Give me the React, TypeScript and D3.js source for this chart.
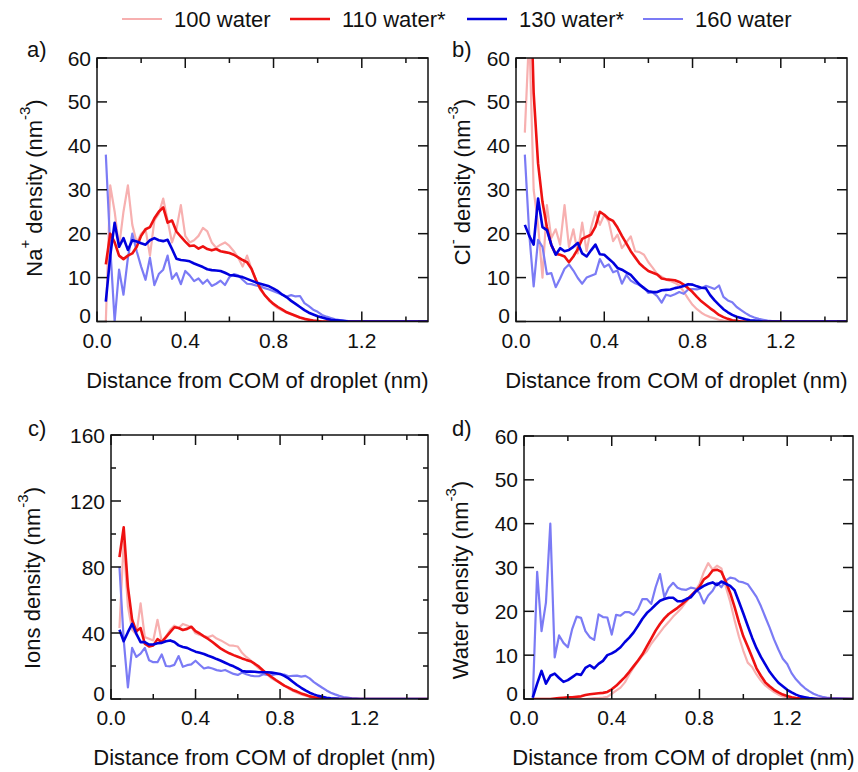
import { useEffect, useRef } from 'react';
import * as d3 from 'd3';

const WIDTH = 858;
const HEIGHT = 772;

const SERIES_NAMES = ['100 water', '110 water*', '130 water*', '160 water'];
const SERIES_COLORS = ['#f7b0b0', '#ee1111', '#0000dd', '#7b7bf5'];
const SERIES_WIDTHS = [2.2, 2.6, 2.6, 2.2];
const DRAW_ORDER = [0, 3, 1, 2];

// distance grid (nm) for the ion panels a-c
const DIST_ION = [
  0.04, 0.06, 0.08, 0.10, 0.12, 0.14, 0.16, 0.18, 0.20, 0.22,
  0.24, 0.26, 0.28, 0.30, 0.32, 0.34, 0.36, 0.38, 0.40, 0.42,
  0.44, 0.46, 0.48, 0.50, 0.52, 0.54, 0.56, 0.58, 0.60, 0.62,
  0.64, 0.66, 0.68, 0.70, 0.72, 0.74, 0.76, 0.78, 0.80, 0.82,
  0.84, 0.86, 0.88, 0.90, 0.92, 0.94, 0.96, 0.98, 1.00, 1.02,
  1.04, 1.06, 1.08, 1.10, 1.12, 1.14, 1.16, 1.18, 1.20,
  1.50,
];

// distance grid (nm) for the water panel d
const DIST_WATER = [
  0.04, 0.06, 0.08, 0.10, 0.12, 0.14, 0.16, 0.18, 0.20, 0.22,
  0.24, 0.26, 0.28, 0.30, 0.32, 0.34, 0.36, 0.38, 0.40, 0.42,
  0.44, 0.46, 0.48, 0.50, 0.52, 0.54, 0.56, 0.58, 0.60, 0.62,
  0.64, 0.66, 0.68, 0.70, 0.72, 0.74, 0.76, 0.78, 0.80, 0.82,
  0.84, 0.86, 0.88, 0.90, 0.92, 0.94, 0.96, 0.98, 1.00, 1.02,
  1.04, 1.06, 1.08, 1.10, 1.12, 1.14, 1.16, 1.18, 1.20, 1.22,
  1.24, 1.26, 1.28, 1.30, 1.32, 1.34, 1.36, 1.38, 1.40,
  1.50,
];

// a) Na+ density
const NA_100 = [
  0, 31, 25, 17, 25, 31, 22, 18, 20, 21,
  15, 23, 24.5, 28, 23, 18, 21, 26.5, 19.5, 18,
  18.5, 19.5, 21.3, 20.5, 18, 16.8, 17.5, 18, 17.2, 16,
  14.5, 12.5, 15, 12, 9.5, 7.2, 6, 4.8, 3.8, 3,
  2.5, 2, 1.6, 1.2, 0.8, 0.6, 0.4, 0.2, 0.1, 0,
  0, 0, 0, 0, 0, 0, 0, 0, 0,
  0,
];
const NA_110 = [
  13, 20, 18, 15, 14.2, 15, 15.5, 17, 19.5, 21,
  21.5, 23.5, 25, 26, 22.5, 23, 20.5, 19.3, 18.2, 17.2,
  17.3, 16.6, 17.1, 16.5, 16.2, 16.5, 16, 15.8, 15.6, 15.2,
  14.6, 14, 13.5, 12, 9.5, 7.5, 6, 4.9, 4, 3.3,
  2.7, 2.1, 1.7, 1.3, 0.9, 0.6, 0.4, 0.2, 0.1, 0,
  0, 0, 0, 0, 0, 0, 0, 0, 0,
  0,
];
const NA_130 = [
  4.5, 15, 22.5, 17, 19, 16.3, 18.5, 18.2, 17.8, 17.5,
  18.5, 19, 18.5, 18.3, 18.6, 16.5, 14.3, 14, 13.9, 13.7,
  13.2, 12.8, 12.4, 11.9, 11.7, 11.6, 11.5, 11.1, 10.6, 10.5,
  10.3, 10.1, 9.7, 9.3, 8.9, 8.6, 8.3, 8, 7.5, 6.9,
  6.1, 5.5, 4.7, 4, 3.3, 2.6, 2, 1.6, 1.2, 0.9,
  0.6, 0.4, 0.3, 0.2, 0.1, 0, 0, 0, 0,
  0,
];
const NA_160 = [
  38, 17, 0, 11.8, 6.1, 14.5, 20, 16, 12.5, 9.5,
  14.5, 8.3, 10.8, 11.8, 15, 9.7, 11, 8.5, 11.5, 10.5,
  9.2, 9.8, 8.6, 9.5, 8.1, 8.6, 9.3, 8.3, 10.1, 10.8,
  10.5, 9.5, 8.6, 8.5, 8.2, 8, 7.6, 7.3, 6.9, 6.5,
  6.1, 5.7, 6, 5.7, 5.8, 4.2, 3.5, 2.7, 2.2, 1.5,
  1.1, 0.8, 0.5, 0.3, 0.2, 0.1, 0, 0, 0,
  0,
];

// b) Cl- density
const CL_100 = [
  43, 66, 30, 22, 10, 26.5, 19, 21, 17.5, 26.5,
  17, 21, 15.5, 22.5, 16, 21.3, 25, 22, 24.3, 22.8,
  18.3, 19.8, 16.7, 18, 19.4, 16, 15.8, 15.2, 13.5, 12.2,
  10.8, 10.2, 9.5, 9.2, 8.8, 8.2, 6.8, 5.2, 3.8, 2.8,
  2, 1.4, 1, 0.7, 0.4, 0.2, 0.1, 0, 0, 0,
  0, 0, 0, 0, 0, 0, 0, 0, 0,
  0,
];
const CL_110 = [
  72, 87, 52, 36, 27.2, 21.5, 17.4, 15.4, 15.2, 14.8,
  13.5, 14.8, 16.5, 18.8, 19.3, 19.8, 21.6, 25, 24.3, 23.4,
  22.9, 21.4, 19.5, 17.8, 16, 14.6, 13.2, 12.3, 11.5, 11.1,
  10.7, 9.8, 9.6, 9.5, 9.4, 9, 8.4, 7.6, 6.7, 5.6,
  4.6, 3.8, 3, 2.3, 1.5, 1, 0.6, 0.3, 0.15, 0,
  0, 0, 0, 0, 0, 0, 0, 0, 0,
  0,
];
const CL_130 = [
  22, 19.5, 17.5, 28, 21.5, 20.8, 17.5, 15.2, 16.7, 16,
  16.3, 17, 17.9, 15.5, 14.8, 16.2, 17.5, 15.3, 15.2, 14.3,
  13.4, 12.2, 11.8, 11.2, 10.6, 9.5, 8.4, 7.6, 6.9, 6.7,
  6.7, 7.1, 7.2, 7.3, 7.6, 7.8, 8.1, 8.5, 8.4, 8,
  7.7, 7.6, 6, 4.8, 3.8, 2.8, 2.1, 1.5, 1.1, 0.8,
  0.5, 0.3, 0.2, 0.1, 0, 0, 0, 0, 0,
  0,
];
const CL_160 = [
  38, 20, 8, 18.6, 17, 10.8, 11, 7.8, 9.8, 12,
  13, 11.6, 9.9, 8.6, 10, 10.4, 10.8, 14.2, 12.4, 13,
  11.2, 11.6, 8.6, 10.6, 9.3, 8.7, 8.3, 7.7, 6.5, 6.6,
  5.8, 4.3, 6.1, 5.8, 6.2, 6.7, 6.3, 7.3, 7.4, 7.3,
  7.6, 8.1, 7.8, 7.4, 8.2, 5.6, 4.8, 4.4, 3.3, 2.6,
  1.9, 1.3, 0.9, 0.6, 0.4, 0.2, 0.1, 0, 0,
  0,
];

// c) Ions density
const ION_100 = [
  43, 95, 56, 42, 39, 58, 37.5, 36.5, 35.5, 48,
  35, 37.8, 42, 44.5, 43, 45.5, 44.5, 43.5, 39.8, 38.8,
  38, 37.5, 38.5, 36.6, 35.5, 34, 32.5, 32.3, 31.8, 28,
  25.5, 23.5, 20.8, 18.5, 16.4, 14.8, 12.5, 11, 9.8, 8.1,
  6.4, 5, 3.8, 2.8, 2, 1.3, 0.8, 0.4, 0.1, 0,
  0, 0, 0, 0, 0, 0, 0, 0, 0,
  0,
];
const ION_110 = [
  86, 104, 68, 48, 41, 43, 33.5, 31.8, 32.5, 36.3,
  34.5, 37.5, 40.5, 43.5, 43, 41.8, 42.5, 43.8, 41.1, 39.7,
  38, 36.4, 34.5, 32.5, 30.5, 29, 27.7, 26.6, 25.6, 24.6,
  23.7, 22.9, 21.4, 19.6, 17.3, 15.2, 13.3, 11.5, 9.8, 8.1,
  6.9, 5.5, 4.5, 3.4, 2.6, 1.6, 1.1, 0.6, 0.3, 0.1,
  0, 0, 0, 0, 0, 0, 0, 0, 0,
  0,
];
const ION_130 = [
  42, 35, 40.5, 45.5, 39.5, 34.5, 34.5, 33, 33, 33.8,
  34, 35, 35.5, 34.5, 32.5, 31.5, 31, 29.8, 28.7, 28,
  27.3, 26.2, 25.3, 24.2, 23.2, 22, 20.8, 19.8, 18.5, 17,
  16.6, 16.6, 16.5, 16.2, 16.2, 16.2, 16, 15.6, 15.2, 14,
  12.5, 10.5, 8.5, 6.8, 5.2, 3.8, 2.8, 1.9, 1.3, 0.8,
  0.5, 0.3, 0.1, 0, 0, 0, 0, 0, 0,
  0,
];
const ION_160 = [
  80, 36, 7, 31, 25.5, 27.5, 31, 23.5, 22.3, 22.3,
  27, 20, 19.8, 20.7, 26, 19.5, 20.5, 21, 23.2, 20.8,
  18.5, 19.2, 18.5, 17.5, 17, 17.6, 16.4, 15.2, 14.6, 16,
  15, 14.2, 13.8, 13.8, 15, 14.6, 14.4, 15, 15, 14.8,
  13.8, 14, 14.2, 13.6, 14, 12.5, 10.2, 8.5, 6.8, 5.2,
  3.8, 2.8, 1.9, 1.2, 0.8, 0.4, 0.2, 0, 0,
  0,
];

// d) Water density
const WAT_100 = [
  0, 0, 0, 0, 0, 0, 0, 0, 0, 0,
  0, 0, 0, 0.1, 0.2, 0.2, 0.3, 0.5, 1.2, 1.9,
  2.6, 3.8, 5.6, 7.2, 8.6, 9.9, 10.9, 12.6, 13.9, 15.2,
  16.5, 17.6, 18.8, 19.8, 20.9, 22.2, 23.4, 24.6, 26.2, 29,
  31, 29.5, 30.4, 29.8, 25.6, 22.2, 18, 14.2, 11, 8.3,
  7.3, 5.6, 4.2, 3.1, 2.3, 1.6, 1, 0.6, 0.3, 0.2,
  0.1, 0, 0, 0, 0, 0, 0, 0, 0,
  0,
];
const WAT_110 = [
  0, 0, 0, 0, 0, 0.1, 0.2, 0.3, 0.4, 0.4,
  0.5, 0.6, 0.9, 1.1, 1.2, 1.3, 1.4, 1.6, 2.2, 3,
  4, 5, 6.2, 7.5, 8.8, 10.2, 12, 13.8, 15.6, 17.1,
  18.4, 19.4, 20.1, 20.8, 21.6, 22.5, 23.5, 24.5, 25.6, 27.3,
  28, 29.3, 29.5, 29, 26.8, 24.2, 21, 17.5, 14.3, 12,
  9.5, 7, 5.3, 3.8, 2.9, 2.1, 1.5, 1, 0.7, 0.4,
  0.2, 0.1, 0, 0, 0, 0, 0, 0, 0,
  0,
];
const WAT_130 = [
  0.3, 3.5, 6.4, 3.5, 5.3, 5.8, 4.8, 3.9, 4.3, 5,
  5.7, 5.5, 7.1, 7.7, 7, 8, 8.7, 10, 10.4, 11,
  11.8, 13, 14, 15.2, 16.7, 18.3, 19.6, 20.5, 21.5, 22.4,
  22.8, 23.1, 23.1, 22.3, 22.3, 22.8, 23.2, 24.4, 25.2, 25.8,
  26.3, 26.6, 26, 26.8, 26.3, 25.8, 24.8, 22.2, 19.5, 16.7,
  14, 11.6, 9.6, 7.9, 6.2, 4.9, 3.7, 2.9, 2.1, 1.5,
  1, 0.6, 0.4, 0.2, 0.1, 0, 0, 0, 0,
  0,
];
const WAT_160 = [
  0, 29, 15.5, 22, 40, 9.5, 14.5, 12.8, 11.8, 16,
  18.8, 18.5, 15.5, 14.1, 13.5, 19.3, 18.7, 18.6, 14.7, 19.2,
  19, 19.8, 19.8, 19.2, 20.5, 22.8, 22.8, 21.7, 25.5, 28.5,
  23.2, 25.4, 26.5, 25.4, 25, 24.9, 25.4, 25.2, 24.2, 21.8,
  23.6, 24.7, 26.5, 25.5, 27, 27.7, 27.5, 26.8, 26.6, 26.2,
  24.8, 23.3, 21.2, 18.7, 16.3, 13.6, 11.3, 9.2, 8, 5.9,
  4.5, 3.4, 2.5, 1.8, 1.2, 0.8, 0.5, 0.3, 0.2,
  0,
];

const X_TICKS = [0, 0.2, 0.4, 0.6, 0.8, 1.0, 1.2, 1.4];
const X_LABELS = [0, 0.4, 0.8, 1.2];
const Y_TICKS_60 = [0, 10, 20, 30, 40, 50, 60];
const Y_TICKS_160 = [0, 20, 40, 60, 80, 100, 120, 140, 160];
const Y_LABELS_160 = [0, 40, 80, 120, 160];

const X_TITLE = 'Distance from COM of droplet (nm)';

// title pieces: [text, isSuperscript]
const PANELS = [
  {
    tag: 'a)', dist: DIST_ION, series: [NA_100, NA_110, NA_130, NA_160],
    yMax: 60, yTicks: Y_TICKS_60, yLabels: Y_TICKS_60,
    title: [['Na', 0], ['+', 1], [' density (nm', 0], ['-3', 1], [')', 0]],
  },
  {
    tag: 'b)', dist: DIST_ION, series: [CL_100, CL_110, CL_130, CL_160],
    yMax: 60, yTicks: Y_TICKS_60, yLabels: Y_TICKS_60,
    title: [['Cl', 0], ['-', 1], [' density (nm', 0], ['-3', 1], [')', 0]],
  },
  {
    tag: 'c)', dist: DIST_ION, series: [ION_100, ION_110, ION_130, ION_160],
    yMax: 160, yTicks: Y_TICKS_160, yLabels: Y_LABELS_160,
    title: [['Ions density (nm', 0], ['-3', 1], [')', 0]],
  },
  {
    tag: 'd)', dist: DIST_WATER, series: [WAT_100, WAT_110, WAT_130, WAT_160],
    yMax: 60, yTicks: Y_TICKS_60, yLabels: Y_TICKS_60,
    title: [['Water density (nm', 0], ['-3', 1], [')', 0]],
  },
];

// plot boxes and text anchors, in page pixels
const LAYOUT = [
  { left: 97, top: 58, right: 428, bottom: 321.5, tagX: 27, tagY: 57, titleX: 42, titleY: 188 },
  { left: 516, top: 58, right: 847, bottom: 321.5, tagX: 452, tagY: 57, titleX: 470, titleY: 182 },
  { left: 111, top: 435, right: 428, bottom: 699, tagX: 28, tagY: 436, titleX: 40, titleY: 578 },
  { left: 524, top: 436, right: 853, bottom: 699, tagX: 452, tagY: 436, titleX: 468, titleY: 580 },
];

const LEGEND_X = [122, 290, 467, 643];
const FONT = '"Liberation Sans", Arial, sans-serif';

export default function App() {
  const svgRef = useRef<SVGSVGElement>(null);

  useEffect(() => {
    if (!svgRef.current) return;
    const svg = d3.select(svgRef.current);
    svg.selectAll('*').remove();

    svg.append('rect').attr('width', WIDTH).attr('height', HEIGHT).attr('fill', 'white');

    // legend
    const legend = svg.append('g').attr('transform', 'translate(0,19)');
    SERIES_NAMES.forEach((name, i) => {
      legend.append('line')
        .attr('x1', LEGEND_X[i]).attr('x2', LEGEND_X[i] + 40)
        .attr('y1', 0).attr('y2', 0)
        .attr('stroke', SERIES_COLORS[i])
        .attr('stroke-width', SERIES_WIDTHS[i]);
      legend.append('text')
        .attr('x', LEGEND_X[i] + 52).attr('y', 0).attr('dy', '0.36em')
        .text(name)
        .style('font-family', FONT).style('font-size', '22px').style('fill', '#111');
    });

    PANELS.forEach((p, pi) => {
      const box = LAYOUT[pi];
      const x = d3.scaleLinear().domain([0, 1.5]).range([box.left, box.right]);
      const y = d3.scaleLinear().domain([0, p.yMax]).range([box.bottom, box.top]);
      const g = svg.append('g');

      const clipId = `clip-${pi}`;
      svg.append('clipPath').attr('id', clipId)
        .append('rect')
        .attr('x', box.left).attr('y', box.top)
        .attr('width', box.right - box.left).attr('height', box.bottom - box.top);

      // lines
      const line = d3.line<number>()
        .x((_, i) => x(p.dist[i]))
        .y(d => y(d))
        .curve(d3.curveLinear);

      const lines = g.append('g').attr('clip-path', `url(#${clipId})`);
      DRAW_ORDER.forEach(si => {
        lines.append('path')
          .datum(p.series[si])
          .attr('fill', 'none')
          .attr('stroke', SERIES_COLORS[si])
          .attr('stroke-width', SERIES_WIDTHS[si])
          .attr('stroke-linejoin', 'round')
          .attr('d', line);
      });

      // frame
      g.append('rect')
        .attr('x', box.left).attr('y', box.top)
        .attr('width', box.right - box.left).attr('height', box.bottom - box.top)
        .attr('fill', 'none').attr('stroke', '#111').attr('stroke-width', 1.5);

      // x ticks, inward on bottom and top
      X_TICKS.forEach(t => {
        const len = X_LABELS.includes(t) ? 10 : 5;
        const xp = x(t);
        g.append('line').attr('x1', xp).attr('x2', xp)
          .attr('y1', box.bottom).attr('y2', box.bottom - len)
          .attr('stroke', '#111').attr('stroke-width', 1.5);
        g.append('line').attr('x1', xp).attr('x2', xp)
          .attr('y1', box.top).attr('y2', box.top + len)
          .attr('stroke', '#111').attr('stroke-width', 1.5);
      });
      X_LABELS.forEach(t => {
        g.append('text')
          .attr('x', x(t)).attr('y', box.bottom + 26)
          .attr('text-anchor', 'middle')
          .text(d3.format('.1f')(t))
          .style('font-family', FONT).style('font-size', '21px').style('fill', '#111');
      });

      // y ticks, inward on left and right
      p.yTicks.forEach(t => {
        const len = p.yLabels.includes(t) ? 10 : 5;
        const yp = y(t);
        g.append('line').attr('x1', box.left).attr('x2', box.left + len)
          .attr('y1', yp).attr('y2', yp)
          .attr('stroke', '#111').attr('stroke-width', 1.5);
        g.append('line').attr('x1', box.right).attr('x2', box.right - len)
          .attr('y1', yp).attr('y2', yp)
          .attr('stroke', '#111').attr('stroke-width', 1.5);
      });
      p.yLabels.forEach(t => {
        g.append('text')
          .attr('x', box.left - 6).attr('y', y(t) + (t === 0 ? 1.5 : 7.5))
          .attr('text-anchor', 'end')
          .text(String(t))
          .style('font-family', FONT).style('font-size', '21px').style('fill', '#111');
      });

      // x title
      g.append('text')
        .attr('x', (box.left + box.right) / 2 - 5).attr('y', box.bottom + 66)
        .attr('text-anchor', 'middle')
        .text(X_TITLE)
        .style('font-family', FONT).style('font-size', '22px').style('fill', '#111');

      // y title with superscripts
      const yt = g.append('text')
        .attr('transform', `translate(${box.titleX},${box.titleY}) rotate(-90)`)
        .attr('text-anchor', 'middle')
        .style('font-family', FONT).style('font-size', '22px').style('fill', '#111');
      let shifted = false;
      p.title.forEach(([txt, sup]) => {
        const span = yt.append('tspan').text(txt as string);
        if (sup && !shifted) { span.attr('dy', -12).style('font-size', '15px'); shifted = true; }
        else if (!sup && shifted) { span.attr('dy', 12); shifted = false; }
        else if (sup) span.style('font-size', '15px');
      });

      // panel tag
      g.append('text')
        .attr('x', box.tagX).attr('y', box.tagY)
        .text(p.tag)
        .style('font-family', FONT).style('font-size', '22px').style('fill', '#111');
    });
  }, []);

  return (
    <div style={{ position: 'absolute', left: 0, top: 0, width: WIDTH, height: HEIGHT, background: 'white' }}>
      <svg ref={svgRef} width={WIDTH} height={HEIGHT} />
    </div>
  );
}
